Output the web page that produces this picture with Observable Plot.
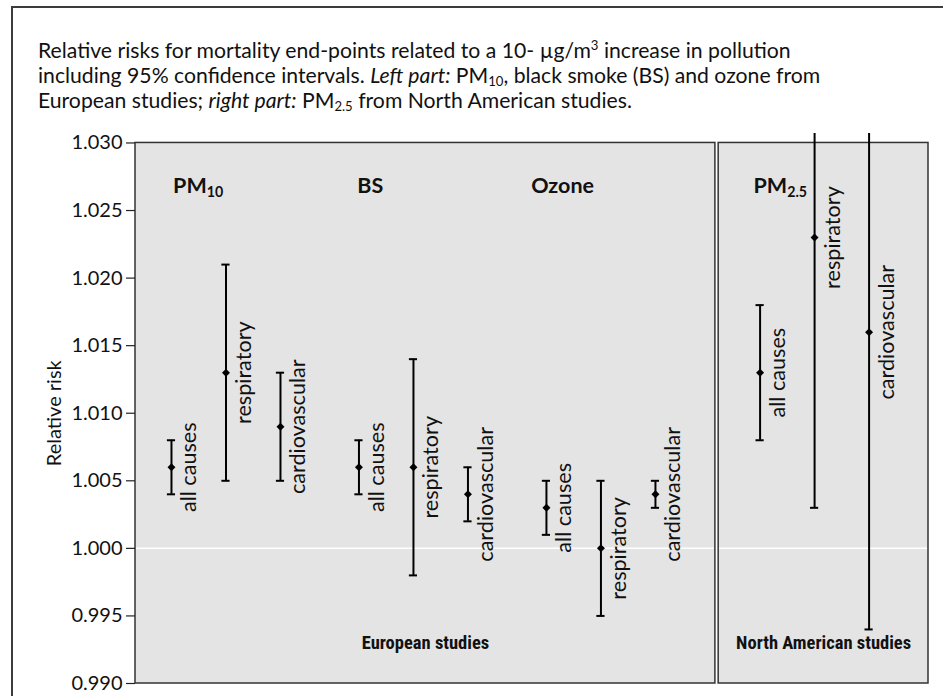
<!DOCTYPE html>
<html><head><meta charset="utf-8">
<script src="https://cdn.jsdelivr.net/npm/d3@7"></script>
<script src="https://cdn.jsdelivr.net/npm/@observablehq/plot@0.6"></script>
<style>
body{margin:0;background:#fff;}
#wrap{position:relative;width:943px;height:696px;overflow:hidden;font-family:Lato,sans-serif;color:#111;}
#frame{position:absolute;left:11px;top:6px;width:1000px;height:1000px;border:2px solid #3c3c3c;box-sizing:border-box;}
#title{position:absolute;left:38px;top:38px;font-size:21.2px;line-height:25px;white-space:nowrap;}
#title sub,#title sup{font-size:0.62em;line-height:0;position:relative;vertical-align:baseline;}
#title sub{top:0.2em}
#title sup{top:-0.6em}
#chart{position:absolute;left:0;top:118px;}
</style></head>
<body><div id="wrap"><div id="frame"></div>
<div id="title">Relative risks for mortality end-points related to a 10- µg/m<sup>3</sup> increase in pollution<br>including 95% confidence intervals. <i>Left part:</i> PM<sub>10</sub>, black smoke (BS) and ozone from<br>European studies; <i>right part:</i> PM<sub>2.5</sub> from North American studies.</div>
<div id="chart"></div></div>
<script>
// ---- data ----
const groups = ["PM10", "BS", "Ozone", "PM2.5"];
const regions = ["European studies", "North American studies"];
const outcomes = ["all causes", "respiratory", "cardiovascular"];
const pollutant = ["PM10","PM10","PM10","BS","BS","BS","Ozone","Ozone","Ozone","PM2.5","PM2.5","PM2.5"];
const outcome = ["all causes","respiratory","cardiovascular","all causes","respiratory","cardiovascular","all causes","respiratory","cardiovascular","all causes","respiratory","cardiovascular"];
const relRisk = [1.006, 1.013, 1.009, 1.006, 1.006, 1.004, 1.003, 1.000, 1.004, 1.013, 1.023, 1.016];
const lower   = [1.004, 1.005, 1.005, 1.004, 0.998, 1.002, 1.001, 0.995, 1.003, 1.008, 1.003, 0.994];
const upper   = [1.008, 1.021, 1.013, 1.008, 1.014, 1.006, 1.005, 1.005, 1.005, 1.018, 1.043, 1.038];
const yTicks  = [0.990, 0.995, 1.000, 1.005, 1.010, 1.015, 1.020, 1.025, 1.030];
const yLabel = "Relative risk";

// ---- layout (slot units along x) ----
const groupOffset = [0, 3.44, 6.88, 10.8];
const groupLabelShift = [0.03, -0.03, -0.28, -0.12];
const panelX1 = [-0.66, 10.04];
const panelX2 = [9.98, 13.89];
const yOverflow = 1.0307;   // top of drawing area (bars above are clipped here)
const capHalf = 0.075;

const data = pollutant.map((p, i) => ({
  p, o: outcome[i], rr: relRisk[i], lo: lower[i], hi: upper[i],
  x: groupOffset[groups.indexOf(p)] + outcomes.indexOf(outcome[i])
}));
const panels = regions.map((r, i) => ({r, x1: panelX1[i], x2: panelX2[i], y1: yTicks[0], y2: yTicks[yTicks.length - 1]}));
const glabels = groups.map((g, i) => ({g, x: groupOffset[i] + groupLabelShift[i]}));

const condensed = "'Liberation Sans Narrow','Roboto Condensed','DejaVu Sans Condensed',sans-serif";

const chart = Plot.plot({
  width: 943, height: 578,
  marginLeft: 135, marginRight: 15, marginTop: 15, marginBottom: 13,
  x: {domain: [panelX1[0], panelX2[1]], axis: null},
  y: {domain: [yTicks[0], yOverflow], axis: null},
  style: {fontFamily: "Lato, sans-serif", color: "#111", background: "transparent"},
  marks: [
    Plot.rect(panels, {x1: "x1", x2: "x2", y1: "y1", y2: "y2", fill: "#e4e4e4", stroke: "#333", strokeWidth: 1.5}),
    Plot.ruleY(panels, {y: () => 1, x1: "x1", x2: "x2", stroke: "white", strokeWidth: 1.5, insetLeft: 1, insetRight: 1}),
    Plot.axisY({ticks: yTicks, tickSize: 9, tickPadding: 4, tickFormat: d3.format(".3f"), label: null, fontSize: 20, stroke: "#222", strokeWidth: 1.2}),
    Plot.text([yLabel], {x: panelX1[0], y: (yTicks[0] + yTicks[yTicks.length - 1]) / 2, dx: -81, rotate: -90, fontSize: 20}),
    Plot.ruleX(data, {x: "x", y1: "lo", y2: "hi", stroke: "black", strokeWidth: 2, clip: true}),
    Plot.ruleY(data, {y: "lo", x1: d => d.x - capHalf, x2: d => d.x + capHalf, stroke: "black", strokeWidth: 2, clip: true}),
    Plot.ruleY(data, {y: "hi", x1: d => d.x - capHalf, x2: d => d.x + capHalf, stroke: "black", strokeWidth: 2, clip: true}),
    Plot.dot(data, {x: "x", y: "rr", symbol: "diamond2", r: 3.6, fill: "black", stroke: "none"}),
    Plot.text(data, {x: "x", y: "rr", text: "o", rotate: -90, dx: 18, fontSize: 21.6}),
    Plot.text(glabels, {x: "x", frameAnchor: "top", dy: 44, text: "g", textAnchor: "start", fontWeight: "bold", fontSize: 21.5}),
    Plot.text(panels, {x: d => (d.x1 + d.x2) / 2, frameAnchor: "bottom", dy: -35, text: "r", fontWeight: "bold", fontSize: 18.5, fontFamily: condensed})
  ]
});
document.getElementById("chart").appendChild(chart);

// subscripts for PM labels
d3.select(chart).selectAll("text").each(function() {
  const t = this.textContent;
  const m = /^PM(10|2\.5)$/.exec(t);
  if (m && this.children.length === 0) {
    const sel = d3.select(this);
    sel.text("PM");
    sel.append("tspan").attr("font-size", "0.66em").attr("dy", "0.28em").text(m[1]);
  }
});
</script>
</body></html>
